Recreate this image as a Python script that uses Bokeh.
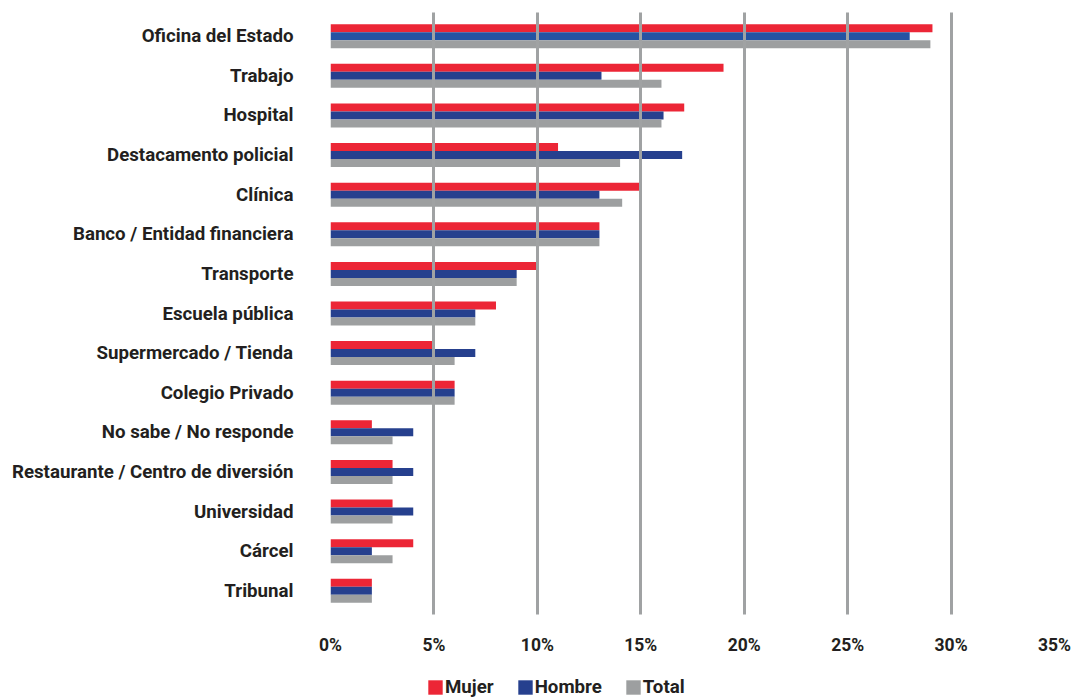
from bokeh.plotting import figure
from bokeh.layouts import column
from bokeh.models import Range1d, FixedTicker, Legend, LegendItem, ColumnDataSource
from bokeh.embed import file_html
from bokeh.resources import INLINE

categories = ["Oficina del Estado", "Trabajo", "Hospital", "Destacamento policial", "Clínica",
              "Banco / Entidad financiera", "Transporte", "Escuela pública", "Supermercado / Tienda",
              "Colegio Privado", "No sabe / No responde", "Restaurante / Centro de diversión",
              "Universidad", "Cárcel", "Tribunal"]
mujer = [29.1, 19.0, 17.1, 11.0, 15.0, 13.0, 10.0, 8.0, 5.0, 6.0, 2.0, 3.0, 3.0, 4.0, 2.0]
hombre = [28.0, 13.1, 16.1, 17.0, 13.0, 13.0, 9.0, 7.0, 7.0, 6.0, 4.0, 4.0, 4.0, 2.0, 2.0]
total = [29.0, 16.0, 16.0, 14.0, 14.1, 13.0, 9.0, 7.0, 6.0, 6.0, 3.0, 3.0, 3.0, 3.0, 2.0]
series_names = ["Mujer", "Hombre", "Total"]
x_ticks = [0, 5, 10, 15, 20, 25, 30, 35]
x_tick_labels = ["0%", "5%", "10%", "15%", "20%", "25%", "30%", "35%"]

RED = "#EC2636"
BLUE = "#26408E"
BLUE_HI = "#2553A3"
GRAY = "#9D9FA0"
TXT = "#231F20"
FONT = "Roboto"

n = len(categories)
pos = [n - 1 - i for i in range(n)]
off = 0.202
bh = 0.202

p = figure(width=1071, height=662, output_backend="svg", toolbar_location=None,
           x_range=Range1d(0, 35), y_range=Range1d(-0.598, n - 1 + 0.598),
           min_border_left=330, min_border_right=17, min_border_top=12, min_border_bottom=48)

src_m = ColumnDataSource(dict(y=[v + off for v in pos], x=mujer))
src_h = ColumnDataSource(dict(y=pos, x=hombre,
                              c=[BLUE_HI if i == 0 else BLUE for i in range(n)]))
src_t = ColumnDataSource(dict(y=[v - off for v in pos], x=total))

p.hbar(y="y", right="x", left=0, height=bh, source=src_m, fill_color=RED, line_color=None)
p.hbar(y="y", right="x", left=0, height=bh, source=src_h, fill_color="c", line_color=None)
p.hbar(y="y", right="x", left=0, height=bh, source=src_t, fill_color=GRAY, line_color=None)

p.outline_line_color = None
p.ygrid.grid_line_color = None
p.xgrid.ticker = FixedTicker(ticks=x_ticks)
p.xgrid.grid_line_color = "#A0A2A3"
p.xgrid.grid_line_width = 3
p.xgrid.level = "overlay"

xa = p.xaxis[0]
xa.ticker = FixedTicker(ticks=x_ticks)
xa.major_label_overrides = {t: l for t, l in zip(x_ticks, x_tick_labels)}
xa.axis_line_color = None
xa.major_tick_line_color = None
xa.minor_tick_line_color = None
xa.major_tick_out = 0
xa.major_label_standoff = 20
xa.major_label_text_font = FONT
xa.major_label_text_font_style = "bold"
xa.major_label_text_font_size = "17.5px"
xa.major_label_text_color = TXT

ya = p.yaxis[0]
ya.ticker = FixedTicker(ticks=pos)
ya.major_label_overrides = {pp: c for pp, c in zip(pos, categories)}
ya.axis_line_color = None
ya.major_tick_line_color = None
ya.minor_tick_line_color = None
ya.major_tick_out = 0
ya.major_label_standoff = 37
ya.major_label_text_font = FONT
ya.major_label_text_font_style = "bold"
ya.major_label_text_font_size = "18.7px"
ya.major_label_text_color = TXT

# legend strip (proxy swatches kept outside the visible range)
p2 = figure(width=1071, height=36, output_backend="svg", toolbar_location=None,
            x_range=Range1d(0, 1), y_range=Range1d(0, 1),
            x_axis_location=None, y_axis_location=None,
            min_border_left=0, min_border_right=0, min_border_top=0, min_border_bottom=0)
p2.outline_line_color = None
p2.xgrid.visible = False
p2.ygrid.visible = False
colors = [RED, BLUE, GRAY]
items = []
for name, col in zip(series_names, colors):
    r = p2.hbar(y=[-5], right=[0.5], left=0, height=0.5, fill_color=col, line_color=None)
    items.append(LegendItem(label=name, renderers=[r]))
legend = Legend(items=items, orientation="horizontal", location=(96, 0),
                glyph_width=18, glyph_height=18, label_standoff=1, spacing=22,
                padding=0, margin=0, border_line_color=None, background_fill_alpha=0,
                label_text_font=FONT, label_text_font_style="bold",
                label_text_font_size="18.7px", label_text_color=TXT)
p2.add_layout(legend, "center")

layout = column(p, p2, spacing=0)
open("out.html", "w").write(file_html(layout, INLINE))
